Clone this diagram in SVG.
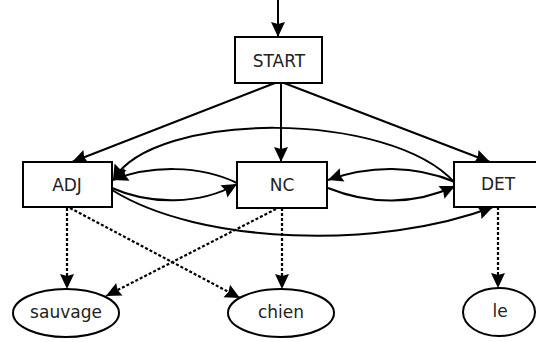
<svg xmlns="http://www.w3.org/2000/svg" width="536" height="342" viewBox="0 0 536 342">
<style>
.box{fill:#fff;stroke:#000;stroke-width:2}
.lbl{font-family:"DejaVu Sans",sans-serif;font-size:17px;fill:#222;text-anchor:middle;dominant-baseline:central}
.e{fill:none;stroke:#000;stroke-width:2;marker-end:url(#ah)}
.d{fill:none;stroke:#000;stroke-width:2.2;stroke-dasharray:3 2;marker-end:url(#ah)}
</style>
<defs>
<marker id="ah" markerUnits="userSpaceOnUse" markerWidth="18" markerHeight="16" refX="15" refY="7" orient="auto" overflow="visible">
<path d="M0,0 L15,7 L0,14 L2,7 z" fill="#000"/>
</marker>
</defs>
<rect width="536" height="342" fill="#fff"/>
<g id="connectors">
<path class="e" d="M278,0 L278,37"/>
<path class="e" d="M275,83 L72,162"/>
<path class="e" d="M281,83 L281,162"/>
<path class="e" d="M284,83 L490,162"/>
<path class="e" d="M455,183 C390,110 154,110 113,180"/>
<path class="e" d="M237,183 C200,165 150,165 113,180"/>
<path class="e" d="M112,188 C150,205 200,205 237,184"/>
<path class="e" d="M455,182 C415,165 370,165 328,180"/>
<path class="e" d="M328,188 C370,205 415,205 455,186"/>
<path class="e" d="M112,190 C200,245 380,250 493,207"/>
<path class="d" d="M67,208 L67,289"/>
<path class="d" d="M70,208 L240,298"/>
<path class="d" d="M276,209 L106,296"/>
<path class="d" d="M282,208 L282,289"/>
<path class="d" d="M498,207 L498,288"/>
</g>
<g id="START"><rect class="box" x="235" y="37" width="87" height="46"/><text class="lbl" x="279" y="61">START</text></g>
<g id="ADJ"><rect class="box" x="23" y="162" width="89" height="45"/><text class="lbl" x="67" y="185">ADJ</text></g>
<g id="NC"><rect class="box" x="237" y="162" width="90" height="46"/><text class="lbl" x="282" y="185">NC</text></g>
<g id="DET"><rect class="box" x="454" y="162" width="88" height="45"/><text class="lbl" x="498" y="184">DET</text></g>
<g id="sauvage"><ellipse class="box" cx="66" cy="313" rx="53" ry="24"/><text class="lbl" x="66" y="312">sauvage</text></g>
<g id="chien"><ellipse class="box" cx="281" cy="313" rx="53" ry="24"/><text class="lbl" x="281" y="312">chien</text></g>
<g id="le"><ellipse class="box" cx="499" cy="312" rx="36" ry="24"/><text class="lbl" x="500" y="311">le</text></g>
</svg>
